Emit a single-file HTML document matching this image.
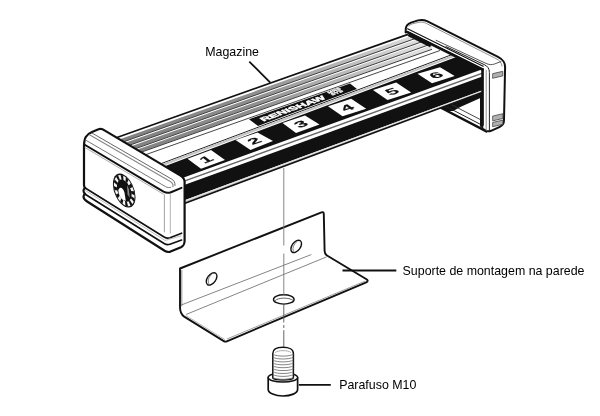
<!DOCTYPE html>
<html><head><meta charset="utf-8"><title>Magazine</title>
<style>
html,body{margin:0;padding:0;background:#fff;}
body{width:600px;height:416px;overflow:hidden;font-family:"Liberation Sans",sans-serif;}
svg{display:block;will-change:transform;}
</style></head><body>
<svg width="600" height="416" viewBox="0 0 600 416">
<rect width="600" height="416" fill="#fff"/>
<g id="under" stroke-linejoin="round" stroke-linecap="round">
<polygon points="440.0,107.2 481.0,95.0 481.0,128.4" fill="#fff"/>
<polygon points="440.5,107.6 481.5,93.1 481.5,97.4 460.3,106.9 453.2,110.9 447.0,110.9" fill="#111"/>
<path d="M440,107.2 L486.4,131.4" stroke="#111" stroke-width="2.4" fill="none"/>
<path d="M446,106.4 L480.3,124.3" stroke="#222" stroke-width="1" fill="none"/>
<path d="M451.5,104.6 L480,119.4" stroke="#333" stroke-width="0.9" fill="none"/>
<path d="M481,94 L481,126" stroke="#111" stroke-width="2" fill="none"/>
</g>
<clipPath id="bclip"><polygon points="0,416 0,0 405,0 405.6,32 407.5,31.8 482.3,69.4 482.3,416"/></clipPath>
<g id="body" clip-path="url(#bclip)">
<polygon points="112.0,139.2 486.0,6.8 486.0,91.1 112.0,230.6" fill="#fff"/>
<defs><linearGradient id="rg" x1="110" y1="0" x2="430" y2="0" gradientUnits="userSpaceOnUse"><stop offset="0" stop-color="#808080"/><stop offset="0.45" stop-color="#8e8e8e"/><stop offset="0.7" stop-color="#b4b4b4"/><stop offset="1" stop-color="#e4e4e4"/></linearGradient></defs>
<polygon points="112.0,141.9 432.0,28.6 432.0,32.4 112.0,145.7" fill="url(#rg)"/>
<line x1="112.0" y1="145.9" x2="432.0" y2="32.6" stroke="#3a3a3a" stroke-width="1.0" />
<polygon points="112.0,147.4 432.0,34.2 432.0,38.0 112.0,151.2" fill="url(#rg)"/>
<line x1="112.0" y1="151.4" x2="432.0" y2="38.2" stroke="#3a3a3a" stroke-width="1.0" />
<polygon points="112.0,153.0 432.0,39.7 432.0,43.5 112.0,156.8" fill="url(#rg)"/>
<line x1="112.0" y1="157.0" x2="432.0" y2="43.7" stroke="#3a3a3a" stroke-width="1.0" />
<polygon points="112.0,158.5 432.0,45.3 432.0,49.1 112.0,162.3" fill="url(#rg)"/>
<line x1="112.0" y1="162.5" x2="432.0" y2="49.3" stroke="#3a3a3a" stroke-width="1.0" />
<line x1="112.0" y1="166.6" x2="440.0" y2="50.5" stroke="#333" stroke-width="0.9" />
<line x1="150.0" y1="167.8" x2="452.0" y2="54.6" stroke="#222" stroke-width="1.0" />
<polygon points="150.0,168.5 455.0,54.2 455.0,56.5 150.0,170.8" fill="#c4c4c4"/>
<polygon points="150.0,171.8 486.0,45.9 486.0,67.8 150.0,189.8" fill="#111"/>
<line x1="180.0" y1="182.6" x2="486.0" y2="72.0" stroke="#666" stroke-width="1.4" />
<polygon points="180.0,186.6 486.0,75.2 486.0,89.0 180.0,201.9" fill="#111"/>
<polygon points="183.0,200.7 482.0,90.4 482.0,92.5 183.0,203.9" fill="#c4c4c4"/>
<line x1="183.0" y1="201.5" x2="482.0" y2="91.2" stroke="#f4f4f4" stroke-width="0.8" />
<line x1="183.0" y1="203.9" x2="482.0" y2="92.5" stroke="#111" stroke-width="1.6" />
<line x1="112.0" y1="139.2" x2="408.0" y2="34.4" stroke="#111" stroke-width="1.7" />
</g>
<polygon points="187.5,158.8 211.0,150.0 225.0,160.0 201.0,168.8" fill="#fff"/>
<text transform="matrix(1.874,-0.698,0.964,0.714,204.37,163.87)" font-family="Liberation Sans, sans-serif" font-weight="bold" font-size="10" fill="#111" stroke="#111" stroke-width="0.12">1</text>
<polygon points="235.5,140.0 257.5,132.5 273.0,141.0 250.5,150.0" fill="#fff"/>
<text transform="matrix(1.893,-0.645,0.998,0.666,252.44,145.05)" font-family="Liberation Sans, sans-serif" font-weight="bold" font-size="10" fill="#111" stroke="#111" stroke-width="0.12">2</text>
<polygon points="282.5,123.0 305.0,115.5 319.5,124.5 296.0,133.0" fill="#fff"/>
<text transform="matrix(1.897,-0.632,0.964,0.714,298.93,128.32)" font-family="Liberation Sans, sans-serif" font-weight="bold" font-size="10" fill="#111" stroke="#111" stroke-width="0.12">3</text>
<polygon points="328.0,106.2 351.2,98.8 366.2,108.8 342.5,116.2" fill="#fff"/>
<text transform="matrix(1.903,-0.614,0.988,0.681,345.25,111.65)" font-family="Liberation Sans, sans-serif" font-weight="bold" font-size="10" fill="#111" stroke="#111" stroke-width="0.12">4</text>
<polygon points="373.0,90.0 396.2,82.5 411.2,92.5 387.5,100.0" fill="#fff"/>
<text transform="matrix(1.903,-0.614,0.988,0.681,390.25,95.40)" font-family="Liberation Sans, sans-serif" font-weight="bold" font-size="10" fill="#111" stroke="#111" stroke-width="0.12">5</text>
<polygon points="417.5,73.8 440.0,67.2 454.7,75.9 432.0,83.3" fill="#fff"/>
<text transform="matrix(1.920,-0.559,1.002,0.660,434.30,78.95)" font-family="Liberation Sans, sans-serif" font-weight="bold" font-size="10" fill="#111" stroke="#111" stroke-width="0.12">6</text>
<polygon points="249.0,119.3 350.0,83.5 357.0,89.0 258.0,126.1" fill="#111"/>
<text transform="matrix(1,-0.365,0.62,0.42,263.5,121.5)" font-family="Liberation Sans, sans-serif" font-weight="bold" font-size="10.5" fill="#fff" stroke="#fff" stroke-width="0.7" textLength="63" lengthAdjust="spacingAndGlyphs">RENISHAW</text>
<text transform="matrix(1,-0.365,0.62,0.42,329,93.7)" font-family="Liberation Sans, sans-serif" font-weight="bold" font-size="5.6" fill="#fff" stroke="#fff" stroke-width="0.4">MRS</text>
<text transform="matrix(1,-0.365,0.62,0.42,332.5,95.5)" font-family="Liberation Sans, sans-serif" font-weight="bold" font-size="5.6" fill="#fff" stroke="#fff" stroke-width="0.4">SYS</text>
<g id="rcap" fill="none" stroke="#111" stroke-linejoin="round" stroke-linecap="round">
<path d="M405.6,32.5 L405.8,28.5 C406,25.5 407.5,24 411,22.6 L418,20.4 C421.5,19.5 424,19.7 427,21.2 L498,56.8 C503.2,59.6 505.1,62 505.1,67 L504,120 C504,124 503,125.3 499.8,126.8 L491,130.8 C489,131.6 487.6,131.5 485.8,130.6 L482.3,128.6 L482.3,69.4 L407.5,31.8 Z" fill="#fff" stroke-width="2"/>
<path d="M409,26 C410,24.6 411.5,24 414,23.4 L419,22.3 C422,21.8 424,22.2 426.5,23.5 L496,58.6 C500,60.8 501.6,62.6 502,66" stroke="#777" stroke-width="0.8"/>
<path d="M436,40.3 L486,63.4 C489,64.8 491.5,65 494.5,64 L501,61.5" stroke="#444" stroke-width="0.9"/>
<path d="M446,46.6 L484.2,64.6 C487.7,66.3 489.4,68.5 489.4,72.5 L489.4,131" stroke="#222" stroke-width="1.0"/>
<path d="M407.6,28.8 L483.2,66.2" stroke-width="1.2"/>
<path d="M408.5,32.8 L482.5,69.5" stroke-width="2.6"/>
<path d="M408.6,34.2 L431,45.4" stroke-width="4.2" stroke-linecap="butt"/>
<path d="M482.8,69 L482.8,125" stroke-width="2"/>
<path d="M486.2,70.5 L486.2,130.5" stroke="#888" stroke-width="0.9"/>
<polygon points="493,73.6 502.8,71.3 502.8,75.9 493,78.2" fill="#b0b0b0" stroke="#444" stroke-width="0.8"/>
<polygon points="493,116.0 502.8,113.7 502.8,118.5 493,120.8" fill="#b0b0b0" stroke="#444" stroke-width="0.8"/>
<polygon points="493,122.4 502.8,120.1 502.8,124.3 493,126.6" fill="#b0b0b0" stroke="#444" stroke-width="0.8"/>
</g>
<g id="lcap" fill="none" stroke="#111" stroke-linejoin="round" stroke-linecap="round">
<path d="M84,147 C84,138 86,134.5 92,132 L98.5,129.2 C101,128.3 102.5,128.8 104.5,130.4 L180.5,175.6 C183.5,177.4 184.6,179 184.6,182 L184.6,241 C184.4,245 183.6,246 181,247.3 L170.5,251.6 C168.5,252.3 167,252.2 165,251 L87.5,201.8 C85,200.2 83.5,198.8 83.5,196.8 C83.5,195.2 84.2,194.4 85.2,193.9 C84,193.1 83.5,192.2 83.5,190.8 C83.5,189.2 84.2,188.4 85.2,187.9 C84.3,187.2 84,186.2 84,185 Z" fill="#fff" stroke-width="2.2"/>
<path d="M84.3,144.5 L163.5,191.6 C166,193 168.5,193.2 171,192.2 L181.5,187.8" stroke-width="2"/>
<path d="M85.5,140 L165.5,186.6 C167.3,187.6 169,187.8 170.8,187.3" stroke="#777" stroke-width="1"/>
<path d="M89.5,134.8 L170.3,181.4 C172.5,182.7 173.3,184.2 173,186.7" stroke="#8a8a8a" stroke-width="1.2"/>
<path d="M92.1,133.1 L171.5,179 C174,180.5 175.2,182.3 175,185.5" stroke="#555" stroke-width="0.9"/>
<path d="M85,147.6 L163.5,194.2" stroke="#999" stroke-width="0.8"/>
<path d="M164.4,195 L164.4,232" stroke="#999" stroke-width="0.9"/>
<path d="M170.3,194 L170.3,233" stroke="#aaa" stroke-width="0.9"/>
<path d="M84.4,187.5 L164.5,237.2 C166.3,238.3 168,238.4 170,237.7 L181.6,233.2" stroke-width="1.6"/>
<path d="M84.4,193.7 L164.5,243.7 C166.3,244.8 168,244.9 170,244.2 L181.6,240.1" stroke-width="1.6"/>
<path d="M85.5,190.6 L165,240.4 L181,235.9" stroke="#aaa" stroke-width="0.8"/>
</g>
<g transform="matrix(1.13,0.655,0,1.57,124.2,190.6)">
<circle r="10" fill="#111"/>
<circle r="7.8" fill="none" stroke="#f4f4f4" stroke-width="2.7"/>
<circle r="7.8" fill="none" stroke="#111" stroke-width="2.9" stroke-dasharray="2.0 2.08" transform="rotate(8)"/>
<circle r="6.3" fill="#111"/>
<path d="M-5.2,2.2 C-4.4,-1.2 -1,-1.6 0.2,1 L1.4,5.9 C-1.8,7 -4.6,5.6 -5.2,2.2Z" fill="#fff"/>
<path d="M2.4,-4.6 L4.2,-2.6 L4.9,2.6 L3,1Z" fill="#8a8a8a"/>
</g>
<g id="bracket" fill="none" stroke="#111" stroke-linejoin="round" stroke-linecap="round">
<path d="M180,268.5 L321.5,212.3 C323,211.8 323.8,212.4 323.8,214 L324.6,251 C324.7,253.5 325.3,254.5 327,255.5 L366.5,279.3 C368.2,280.4 368,281.6 366.3,282.3 L226.8,341.3 C225.6,341.8 224.8,341.7 223.8,341.1 L184.2,316.6 C181.2,314.6 180,311.5 180,307 Z" fill="#fff" stroke-width="1.9"/>
<path d="M181.5,304.9 L311,254.7" stroke="#777" stroke-width="0.9"/>
<path d="M186.5,314.3 L326.3,257" stroke="#777" stroke-width="0.9"/>
<path d="M181.8,270.3 L181.8,306" stroke="#777" stroke-width="0.8"/>
<path d="M227.2,338.9 L364.8,281.2" stroke="#888" stroke-width="0.8"/>
<path d="M186,315.6 L224.6,339.4" stroke="#999" stroke-width="0.7"/>
<ellipse cx="211.6" cy="278.9" rx="4.2" ry="7" transform="rotate(36 211.6 278.9)" fill="#fff" stroke-width="1.4"/>
<path d="M209.2,284.2 C207,282 208.5,276.5 212.3,273.6" stroke="#666" stroke-width="0.8"/>
<ellipse cx="296.2" cy="246.4" rx="4.2" ry="7" transform="rotate(36 296.2 246.4)" fill="#fff" stroke-width="1.4"/>
<path d="M293.9,252 C291.7,249.8 293.2,244.3 297,241.4" stroke="#666" stroke-width="0.8"/>
<ellipse cx="283.8" cy="299.4" rx="10.3" ry="4.7" fill="#fff" stroke-width="1.4"/>
<path d="M275,300.6 C278,297.4 289,297.2 292.8,300.2" stroke="#555" stroke-width="0.9"/>
</g>
<g id="screw" fill="none" stroke="#111" stroke-linejoin="round" stroke-linecap="round">
<path d="M268.2,377.5 L268.2,389.5 C268.2,393 275,396 283,396 C291,396 297.6,393.2 297.6,389.5 L297.6,377.5" fill="#fff" stroke-width="1.7"/>
<ellipse cx="282.9" cy="377.5" rx="14.7" ry="4.6" fill="#fff" stroke-width="1.5"/>
<path d="M272.8,378 L272.8,353.5 C272.8,349.5 277,347.3 283,347.3 C289,347.3 293.4,349.5 293.4,353.5 L293.4,378 C291,380.6 275,380.6 272.8,378 Z" fill="#fff" stroke-width="1.5"/>
<path d="M273.2,354.5 C277,356.7 289,356.7 293,354.5" stroke="#777" stroke-width="0.9"/>
<path d="M273.2,357.4 C277,359.6 289,359.6 293,357.4" stroke="#777" stroke-width="0.9"/>
<path d="M273.2,360.3 C277,362.5 289,362.5 293,360.3" stroke="#777" stroke-width="0.9"/>
<path d="M273.2,363.2 C277,365.4 289,365.4 293,363.2" stroke="#777" stroke-width="0.9"/>
<path d="M273.2,366.1 C277,368.3 289,368.3 293,366.1" stroke="#777" stroke-width="0.9"/>
<path d="M273.2,369.0 C277,371.2 289,371.2 293,369.0" stroke="#777" stroke-width="0.9"/>
<path d="M273.2,371.9 C277,374.1 289,374.1 293,371.9" stroke="#777" stroke-width="0.9"/>
<path d="M273.2,374.8 C277,377.0 289,377.0 293,374.8" stroke="#777" stroke-width="0.9"/>
<path d="M273.2,377.7 C277,379.9 289,379.9 293,377.7" stroke="#777" stroke-width="0.9"/>
<path d="M275.5,352.3 C278,350 288,350 290.7,352.3" stroke="#999" stroke-width="0.8"/>
</g>
<g id="misc" stroke="#111" fill="none">
<path d="M283.8,168 L283.8,245.5 M283.8,253.5 L283.8,296" stroke="#777" stroke-width="0.9"/>
<path d="M283.8,303.5 L283.8,322.5 M283.8,325 L283.8,328 M283.8,330.2 L283.8,347" stroke="#555" stroke-width="0.9"/>
<path d="M249.3,61.6 L270.3,82.6" stroke-width="1.8"/>
<path d="M342.5,270.5 L396.3,270.5" stroke-width="1.8"/>
<path d="M298.8,384.8 L330.8,384.8" stroke-width="1.8"/>
</g>
<g font-family="Liberation Sans, sans-serif" font-size="12.4" fill="#000">
<text x="205.2" y="55.8">Magazine</text>
<text x="402.6" y="275.2">Suporte de montagem na parede</text>
<text x="339.2" y="389.3">Parafuso M10</text>
</g>
</svg>
</body></html>
